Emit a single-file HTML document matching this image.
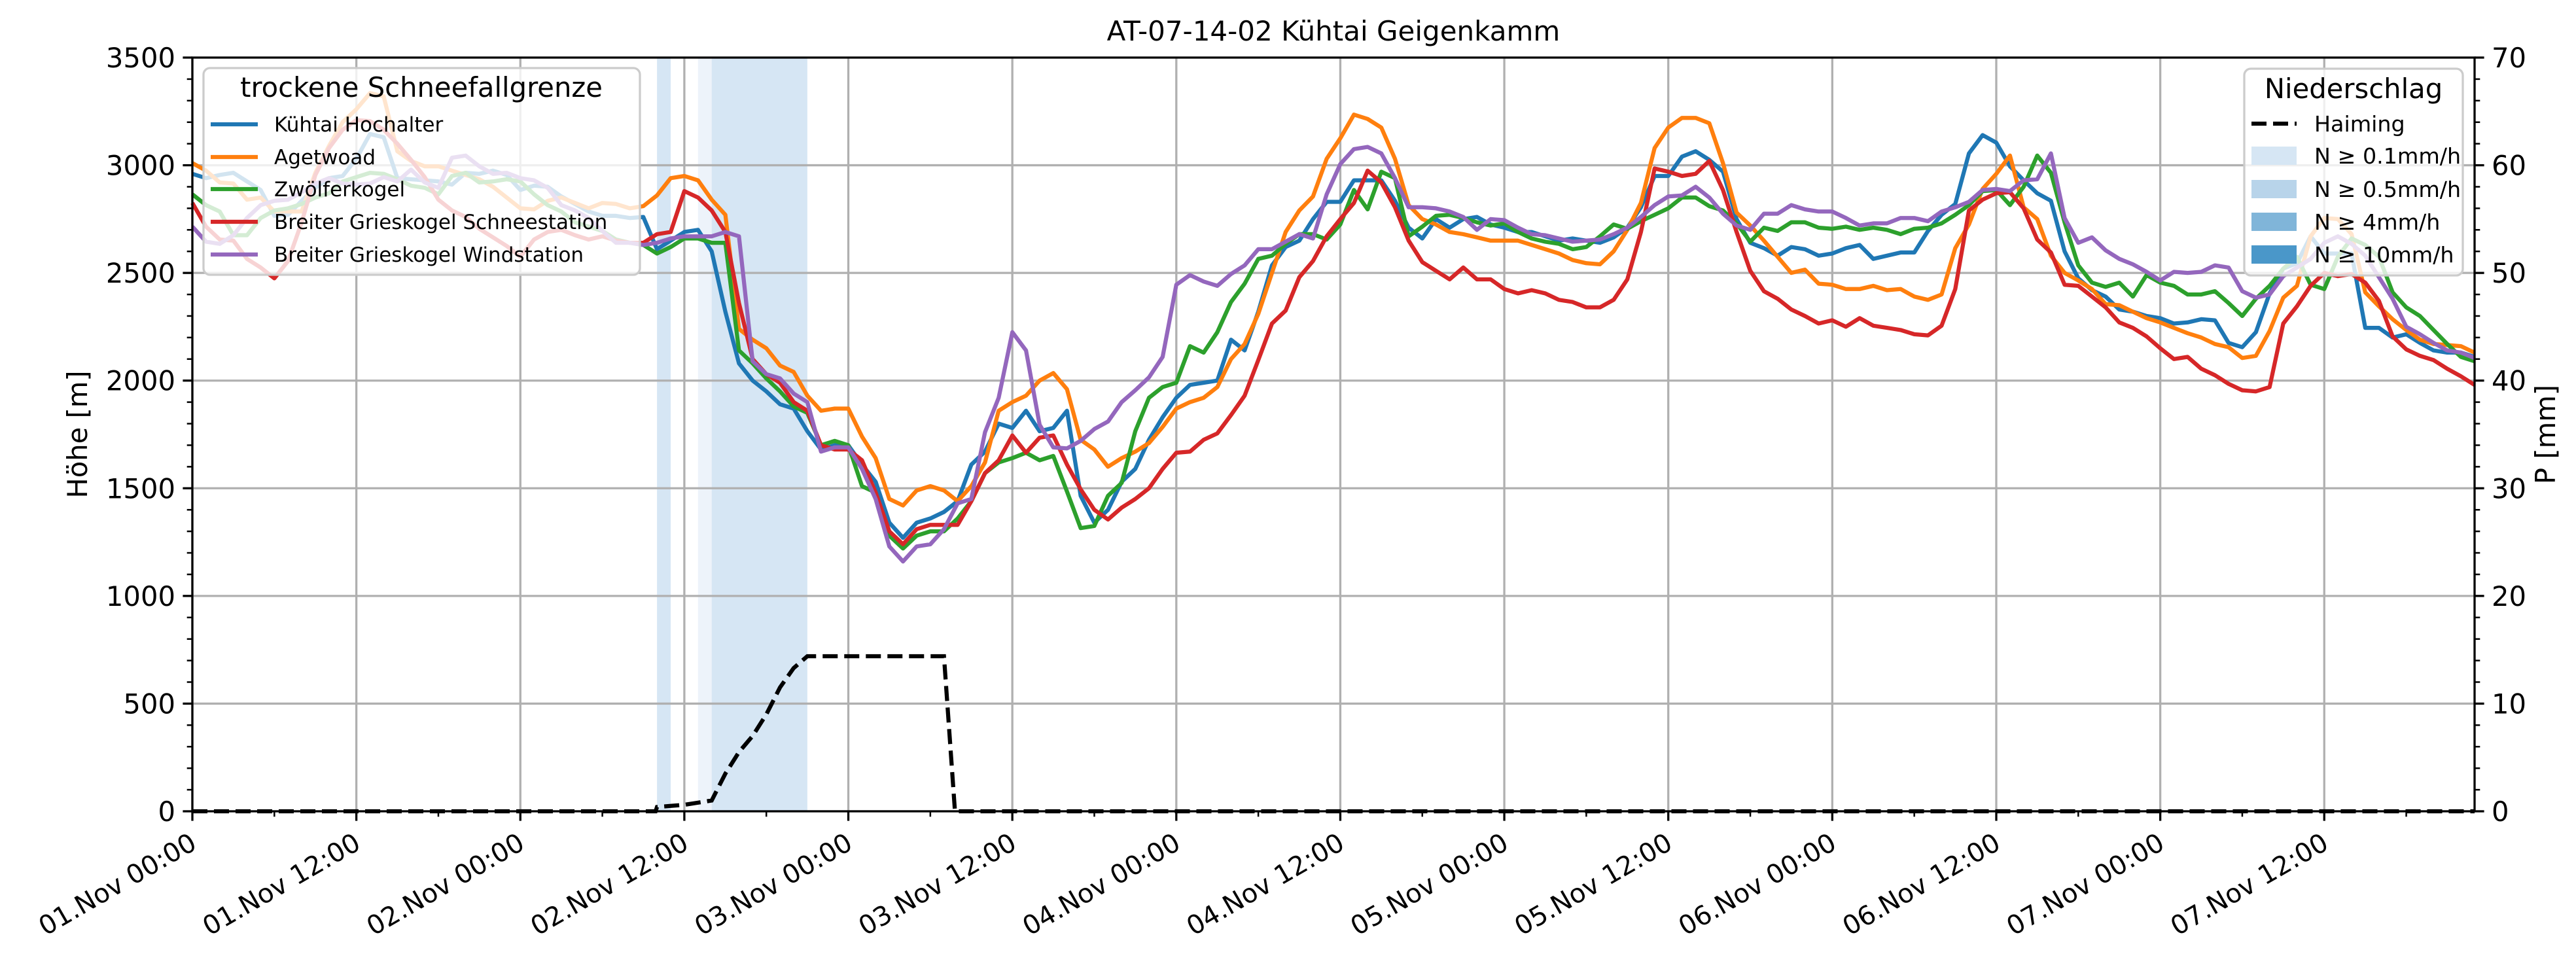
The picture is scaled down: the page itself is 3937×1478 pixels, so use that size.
<!DOCTYPE html>
<html><head><meta charset="utf-8"><style>
html,body{margin:0;padding:0;background:#fff;}
svg{display:block;font-family:"DejaVu Sans","Liberation Sans",sans-serif;}
</style></head><body>
<svg id="chart" width="3937" height="1478" viewBox="0 0 3937 1478" xmlns="http://www.w3.org/2000/svg">
<rect x="0" y="0" width="3937" height="1478" fill="#fff"/>
<text x="2038" y="62" font-size="42" text-anchor="middle">AT-07-14-02 Kühtai Geigenkamm</text>
<g id="spans"></g><g id="grid"></g><g id="series"></g><g id="haiming"></g><g id="axes"></g>
<text transform="translate(133,664) rotate(-90)" font-size="41.7" text-anchor="middle">Höhe [m]</text>
<text transform="translate(3905,664) rotate(-90)" font-size="41.7" text-anchor="middle">P [mm]</text>
<g id="legend1">
<rect x="311" y="104" width="667" height="316" rx="10" fill="#fff" fill-opacity="0.8" stroke="#cccccc" stroke-width="3.3"/>
<text x="644" y="148" font-size="41.7" text-anchor="middle">trockene Schneefallgrenze</text>
</g>
<g id="legend2">
<rect x="3430" y="105" width="334" height="316" rx="10" fill="#fff" fill-opacity="0.8" stroke="#cccccc" stroke-width="3.3"/>
<text x="3597" y="150" font-size="41.7" text-anchor="middle">Niederschlag</text>
</g>
</svg>
<script>
const NS="http://www.w3.org/2000/svg";
const seriesNames=["Kühtai Hochalter","Agetwoad","Zwölferkogel","Breiter Grieskogel Schneestation","Breiter Grieskogel Windstation"];
const seriesColors=["#1f77b4","#ff7f0e","#2ca02c","#d62728","#9467bd"];
const hochalter=[2960,2940,2955,2965,2925,2885,2765,2770,2835,2895,2940,2950,3030,3145,3130,2940,2935,2930,2925,2910,2965,2960,2975,2955,2885,2905,2900,2855,2820,2785,2765,2765,2755,
2760,2610,2650,2690,2700,2600,2320,2080,2000,1950,1890,1870,1765,1680,1700,1700,1610,1530,1340,1270,1340,1360,1390,1440,1610,1670,1800,
1780,1860,1765,1780,1860,1465,1340,1400,1530,1590,1725,1830,1920,1980,1990,2000,2190,2140,2320,2535,2620,2650,2750,2830,2830,2930,2930,2930,2835,2710,2660,2750,2710,2750,2760,2725,2710,2690,2690,2670,2650,2660,2650,2640,2665,2710,2805,2950,2950,3040,3065,3025,2970,2750,2640,2615,2580,2620,2610,2580,
2590,2615,2630,2565,2580,2595,2595,2695,2770,2820,3055,3140,3105,2995,2930,2870,2835,2600,2475,2420,2390,2330,2320,2300,2290,2265,2270,2285,2280,2175,2155,2225,2405,2520,2545,2670,2590,2590,2590,2245,2245,2200,2215,2175,2140,2130,2130,2110];
const agetwoad=[3010,2975,2920,2915,2840,2850,2785,2785,2785,2965,3090,3200,3260,3335,3320,3065,3020,2995,2995,2975,2955,2935,2900,2850,2800,2795,2835,2850,2825,2800,2825,2820,2800,
2810,2860,2940,2950,2930,2840,2770,2240,2190,2150,2070,2040,1930,1860,1870,1870,1740,1640,1450,1420,1490,1510,1490,1440,1510,1620,1860,
1900,1930,2000,2035,1960,1725,1680,1600,1640,1670,1710,1785,1870,1900,1920,1970,2100,2170,2310,2500,2690,2790,2855,3030,3125,3235,3215,3175,3030,2815,2750,2725,2690,2680,2665,2650,2650,2650,2630,2610,2590,2560,2545,2540,2600,2700,2825,3080,3175,3220,3220,3195,3010,2780,2720,2650,2575,2500,2515,2450,
2445,2425,2425,2440,2420,2425,2390,2375,2400,2615,2725,2890,2960,3045,2805,2750,2580,2500,2465,2425,2355,2350,2320,2290,2270,2245,2220,2200,2170,2155,2105,2115,2230,2385,2440,2670,2755,2750,2680,2410,2345,2285,2235,2190,2170,2165,2160,2130];
const zwoelferkogel=[2865,2815,2785,2675,2675,2755,2790,2800,2820,2850,2870,2925,2945,2965,2960,2935,2905,2895,2865,2950,2965,2920,2925,2935,2925,2865,2815,2785,2735,2715,2695,2655,2640,
2630,2590,2620,2660,2660,2640,2640,2140,2080,2010,1950,1880,1850,1700,1720,1700,1510,1480,1280,1220,1280,1300,1300,1360,1440,1570,1620,
1640,1665,1630,1650,1485,1315,1325,1465,1525,1765,1920,1970,1990,2160,2130,2225,2365,2450,2565,2580,2635,2680,2680,2655,2725,2885,2795,2970,2940,2670,2715,2765,2770,2755,2735,2720,2730,2690,2660,2645,2635,2610,2620,2670,2725,2705,2740,2770,2800,2850,2850,2810,2790,2730,2645,2710,2695,2735,2735,2710,
2705,2715,2700,2710,2700,2680,2705,2710,2730,2770,2815,2880,2885,2815,2900,3045,2965,2735,2535,2455,2435,2455,2390,2490,2455,2440,2400,2400,2415,2360,2300,2380,2440,2520,2575,2445,2425,2575,2660,2630,2575,2410,2340,2300,2235,2170,2110,2090];
const schneestation=[2825,2715,2655,2650,2565,2525,2475,2555,2735,2955,3080,3165,3210,3205,3165,3100,3025,2945,2840,2790,2760,2705,2665,2625,2575,2655,2690,2700,2675,2655,2670,2650,2640,
2640,2680,2690,2880,2850,2790,2690,2360,2100,2030,1990,1900,1860,1700,1680,1680,1630,1480,1300,1240,1310,1330,1330,1330,1440,1570,1630,
1745,1665,1735,1745,1610,1495,1400,1355,1410,1450,1500,1590,1665,1670,1725,1755,1840,1930,2095,2265,2325,2480,2555,2670,2750,2825,2975,2920,2805,2650,2550,2510,2470,2525,2470,2470,2425,2405,2420,2405,2375,2365,2340,2340,2375,2470,2690,2985,2970,2950,2960,3020,2885,2690,2510,2415,2380,2330,2300,2265,
2280,2250,2290,2255,2245,2235,2215,2210,2255,2425,2790,2840,2870,2875,2800,2655,2595,2445,2440,2390,2340,2270,2245,2205,2150,2100,2110,2055,2025,1985,1955,1950,1970,2265,2345,2440,2500,2485,2495,2455,2370,2205,2145,2115,2095,2055,2020,1980];
const windstation=[2715,2645,2635,2675,2755,2815,2835,2840,2875,2915,2940,2915,2910,2915,2945,2925,2980,2920,2895,3035,3045,2995,2960,2965,2940,2930,2895,2815,2790,2755,2695,2640,2640,
2630,2640,2660,2670,2670,2670,2690,2670,2090,2030,2010,1940,1900,1670,1690,1690,1590,1450,1230,1160,1230,1240,1310,1430,1450,1760,1920,
2225,2140,1795,1690,1685,1720,1775,1810,1900,1955,2015,2110,2445,2490,2460,2440,2495,2535,2610,2610,2645,2680,2660,2865,3005,3075,3085,3055,2940,2805,2805,2800,2785,2760,2700,2750,2745,2710,2680,2675,2660,2645,2650,2655,2680,2710,2760,2815,2855,2860,2900,2850,2775,2720,2700,2775,2775,2815,2795,2785,
2785,2755,2720,2730,2730,2755,2755,2740,2785,2805,2830,2885,2890,2880,2930,2935,3055,2755,2640,2665,2605,2565,2540,2505,2465,2505,2500,2505,2535,2525,2415,2385,2400,2485,2525,2565,2640,2670,2635,2580,2480,2380,2250,2215,2175,2140,2130,2105];
const haimingHours=[0,33.9,34,35,36,37,38,39,40,41,42,43,44,45,55,55.8,167];
const haimingMM=[0,0,0.4,0.5,0.6,0.8,1.0,3.5,5.5,7,9,11.5,13.3,14.4,14.4,0,0];
const spanStart=[34,37,38];
const spanEnd=[35,38,45];
const spanColor=["#d6e6f4","#edf3fa","#d6e6f4"];
const xTickLabels=["01.Nov 00:00","01.Nov 12:00","02.Nov 00:00","02.Nov 12:00","03.Nov 00:00","03.Nov 12:00","04.Nov 00:00","04.Nov 12:00","05.Nov 00:00","05.Nov 12:00","06.Nov 00:00","06.Nov 12:00","07.Nov 00:00","07.Nov 12:00"];
const yTicksLeft=[0,500,1000,1500,2000,2500,3000,3500];
const yTicksRight=[0,10,20,30,40,50,60,70];
const precipLegend=["N ≥ 0.1mm/h","N ≥ 0.5mm/h","N ≥ 4mm/h","N ≥ 10mm/h"];
const precipColors=["#d6e6f4","#b8d4ea","#80b5d9","#4a97c9"];

const L=294,R=3782,T=88,B=1240,XMAX=167;
const xs=t=>L+t*(R-L)/XMAX;
const yl=v=>B-v*(B-T)/3500;
const yr=v=>B-v*(B-T)/70;
function mk(tag,attrs,parent){const e=document.createElementNS(NS,tag);for(const k in attrs)e.setAttribute(k,attrs[k]);parent.appendChild(e);return e;}
const gS=document.getElementById('spans'),gG=document.getElementById('grid'),gL=document.getElementById('series'),gH=document.getElementById('haiming'),gA=document.getElementById('axes');
spanStart.forEach((s,i)=>{const r=mk('rect',{x:xs(s),y:T,width:xs(spanEnd[i])-xs(s),height:B-T,fill:spanColor[i]},gS);

});
xTickLabels.forEach((lab,i)=>{const x=xs(i*12);
const g=mk('line',{x1:x,x2:x,y1:T,y2:B,stroke:"#b0b0b0","stroke-width":3.3},gG);


mk('line',{x1:x,x2:x,y1:B,y2:B+14.6,stroke:"#000","stroke-width":3.3},gA);
const t=mk('text',{transform:`translate(${x-6},${B+30}) rotate(-30)`,"text-anchor":"end","font-size":40,dy:"0.75em"},gA);
t.textContent=lab;

});
for(let h=6;h<XMAX;h+=12){mk('line',{x1:xs(h),x2:xs(h),y1:B,y2:B+8.3,stroke:"#000","stroke-width":2.5},gA);}
yTicksLeft.forEach(v=>{const y=yl(v);
if(v>0&&v<3500){const g=mk('line',{x1:L,x2:R,y1:y,y2:y,stroke:"#b0b0b0","stroke-width":3.3},gG);

}
mk('line',{x1:L-14.6,x2:L,y1:y,y2:y,stroke:"#000","stroke-width":3.3},gA);
const t=mk('text',{x:L-26,y:y+15,"text-anchor":"end","font-size":41.7},gA);t.textContent=v;

});
for(let v=100;v<3500;v+=100){if(v%500)mk('line',{x1:L-8.3,x2:L,y1:yl(v),y2:yl(v),stroke:"#000","stroke-width":2.5},gA);}
yTicksRight.forEach(v=>{const y=yr(v);
mk('line',{x1:R,x2:R+14.6,y1:y,y2:y,stroke:"#000","stroke-width":3.3},gA);
const t=mk('text',{x:R+26,y:y+15,"text-anchor":"start","font-size":41.7},gA);t.textContent=v;

});
for(let v=2;v<70;v+=2){if(v%10)mk('line',{x1:R,x2:R+8.3,y1:yr(v),y2:yr(v),stroke:"#000","stroke-width":2.5},gA);}
mk('rect',{x:L,y:T,width:R-L,height:B-T,fill:"none",stroke:"#000","stroke-width":3.3},gA);
const allSeries=[hochalter,agetwoad,zwoelferkogel,schneestation,windstation];
const seriesKeys=["hochalter","agetwoad","zwoelferkogel","schneestation","windstation"];
allSeries.forEach((arr,i)=>{const pts=arr.map((v,t)=>xs(t).toFixed(1)+","+yl(v).toFixed(1)).join(" ");
const p=mk('polyline',{points:pts,fill:"none",stroke:seriesColors[i],"stroke-width":6.25,"stroke-linejoin":"round"},gL);

});
const hp=mk('polyline',{points:haimingHours.map((t,i)=>xs(t).toFixed(1)+","+yr(haimingMM[i]).toFixed(1)).join(" "),fill:"none",stroke:"#000","stroke-width":6.25,"stroke-dasharray":"23,10"},gH);


const lg1=document.getElementById('legend1');
const ly=[190,240,289,339,389];
seriesNames.forEach((n,i)=>{mk('line',{x1:322,x2:394,y1:ly[i],y2:ly[i],stroke:seriesColors[i],"stroke-width":6.25},lg1);
const t=mk('text',{x:419,y:ly[i]+11,"font-size":31},lg1);t.textContent=n;

});
const lg2=document.getElementById('legend2');
mk('line',{x1:3441,x2:3510,y1:189,y2:189,stroke:"#000","stroke-width":6.25,"stroke-dasharray":"23,10"},lg2);
const th=mk('text',{x:3537,y:201,"font-size":33.3},lg2);th.textContent="Haiming";


const py=[238,289,339,389];
precipLegend.forEach((n,i)=>{mk('rect',{x:3441,y:py[i]-14,width:69,height:28,fill:precipColors[i]},lg2);
const t=mk('text',{x:3537,y:py[i]+12,"font-size":33.3},lg2);t.textContent=n;

});
</script>
</body></html>
